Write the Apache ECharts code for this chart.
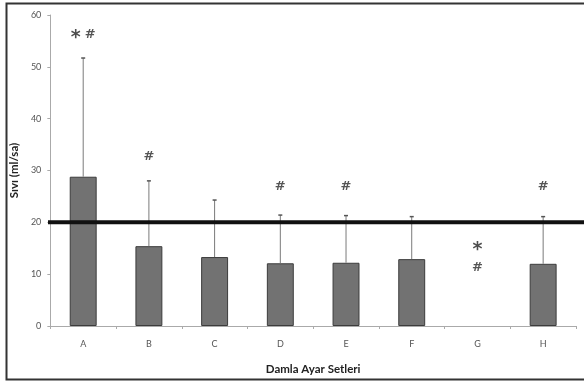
<!DOCTYPE html>
<html>
<head>
<meta charset="utf-8">
<script src="https://cdn.jsdelivr.net/npm/echarts@6/dist/echarts.min.js"></script>
<style>
  html, body { margin: 0; padding: 0; background: #fff; }
  #main { width: 584px; height: 381px; }
</style>
</head>
<body>
<div id="main"></div>
<script>
// veriler
var categories = ['A', 'B', 'C', 'D', 'E', 'F', 'G', 'H'];
var means = [28.8, 15.4, 13.3, 12.1, 12.2, 12.9, 0, 12.0];
var errTop = [51.7, 28.0, 24.3, 21.4, 21.3, 21.1, 0, 21.1];
var yTicks = [0, 10, 20, 30, 40, 50, 60];
var refValue = 20;
// isaretler: [kategori, y degeri, metin]
var marks = [
    ['A', 56.2, '* #'],
    ['B', 32.6, '#'],
    ['D', 26.8, '#'],
    ['E', 26.8, '#'],
    ['G', 15.3, '*'],
    ['G', 11.2, '#'],
    ['H', 26.8, '#']
];

var chart = echarts.init(document.getElementById('main'));
var font = 'Lato, "Open Sans", sans-serif';

var option = {
    animation: false,
    grid: [
        {left: 50, right: 8, top: 15, bottom: 55},
        {left: 48, right: 0, top: 15, bottom: 55}
    ],
    graphic: [{
        type: 'polyline',
        shape: {points: [[590, 3.5], [6.5, 3.5], [6.5, 379.5], [590, 379.5]]},
        style: {stroke: '#333', lineWidth: 2, fill: null}
    }],
    xAxis: [{
        type: 'category',
        gridIndex: 0,
        data: categories,
        axisLine: {lineStyle: {color: '#aaa', width: 1}},
        axisTick: {show: true, length: 3, lineStyle: {color: '#aaa'}},
        axisLabel: {color: '#555', fontSize: 9, fontFamily: font, margin: 14},
        name: 'Damla Ayar Setleri',
        nameLocation: 'middle',
        nameGap: 37,
        nameTextStyle: {color: '#222', fontSize: 11.5, fontWeight: 'bold', fontFamily: font}
    }, {
        type: 'value',
        gridIndex: 1,
        min: 0, max: 1,
        show: false
    }],
    yAxis: [{
        type: 'value',
        gridIndex: 0,
        min: 0, max: 60, interval: 10,
        axisLine: {show: true, lineStyle: {color: '#aaa', width: 1}},
        axisTick: {show: true, length: 3, lineStyle: {color: '#aaa'}},
        splitLine: {show: false},
        axisLabel: {color: '#555', fontSize: 9, fontFamily: font, margin: 9,
            customValues: yTicks},
        name: 'Sıvı (ml/sa)',
        nameLocation: 'middle',
        nameGap: 28,
        nameTextStyle: {color: '#222', fontSize: 11.5, fontWeight: 'bold', fontFamily: font}
    }, {
        type: 'value',
        gridIndex: 1,
        min: 0, max: 60,
        show: false
    }],
    series: [
        {
            type: 'bar',
            xAxisIndex: 0, yAxisIndex: 0,
            data: means.map(function (v) {
                return v > 0 ? v : {value: v, itemStyle: {borderWidth: 0}};
            }),
            barWidth: '41%',
            itemStyle: {color: '#727272', borderColor: '#3c3c3c', borderWidth: 1},
            z: 2
        },
        {
            type: 'custom',
            xAxisIndex: 0, yAxisIndex: 0,
            data: means.map(function (m, i) { return [i, m, errTop[i]]; }),
            renderItem: function (params, api) {
                if (api.value(2) <= api.value(1)) return;
                var low = api.coord([api.value(0), api.value(1)]);
                var high = api.coord([api.value(0), api.value(2)]);
                var st = {stroke: '#7a7a7a', lineWidth: 1};
                return {
                    type: 'group',
                    children: [
                        {type: 'line', shape: {x1: low[0], y1: low[1], x2: high[0], y2: high[1]}, style: st},
                        {type: 'line', shape: {x1: high[0] - 2, y1: high[1], x2: high[0] + 2, y2: high[1]},
                            style: {stroke: '#555', lineWidth: 1.5}}
                    ]
                };
            },
            z: 3
        },
        {
            type: 'line',
            xAxisIndex: 1, yAxisIndex: 1,
            data: [[0, refValue], [1, refValue]],
            symbol: 'none',
            lineStyle: {color: '#111', width: 4},
            z: 4
        },
        {
            type: 'scatter',
            xAxisIndex: 0, yAxisIndex: 0,
            symbolSize: 1,
            itemStyle: {color: 'rgba(0,0,0,0)'},
            data: marks.map(function (m) { return {value: [m[0], m[1]], name: m[2]}; }),
            label: {
                show: true,
                position: 'inside',
                formatter: function (p) {
                    return p.name.replace(/\*/g, '{s|*}').replace(/#/g, '{h|#}');
                },
                color: '#222',
                fontSize: 13,
                fontFamily: '"DejaVu Sans", sans-serif',
                rich: {
                    s: {fontSize: 19, fontWeight: 'bold', color: '#222', padding: [6, 0, 0, 0],
                        fontFamily: '"DejaVu Sans", sans-serif'},
                    h: {fontSize: 13, fontWeight: 'bold', color: '#2a2a2a', fontFamily: '"DejaVu Sans", sans-serif'}
                }
            },
            z: 5
        }
    ]
};
chart.setOption(option);
</script>
</body>
</html>
